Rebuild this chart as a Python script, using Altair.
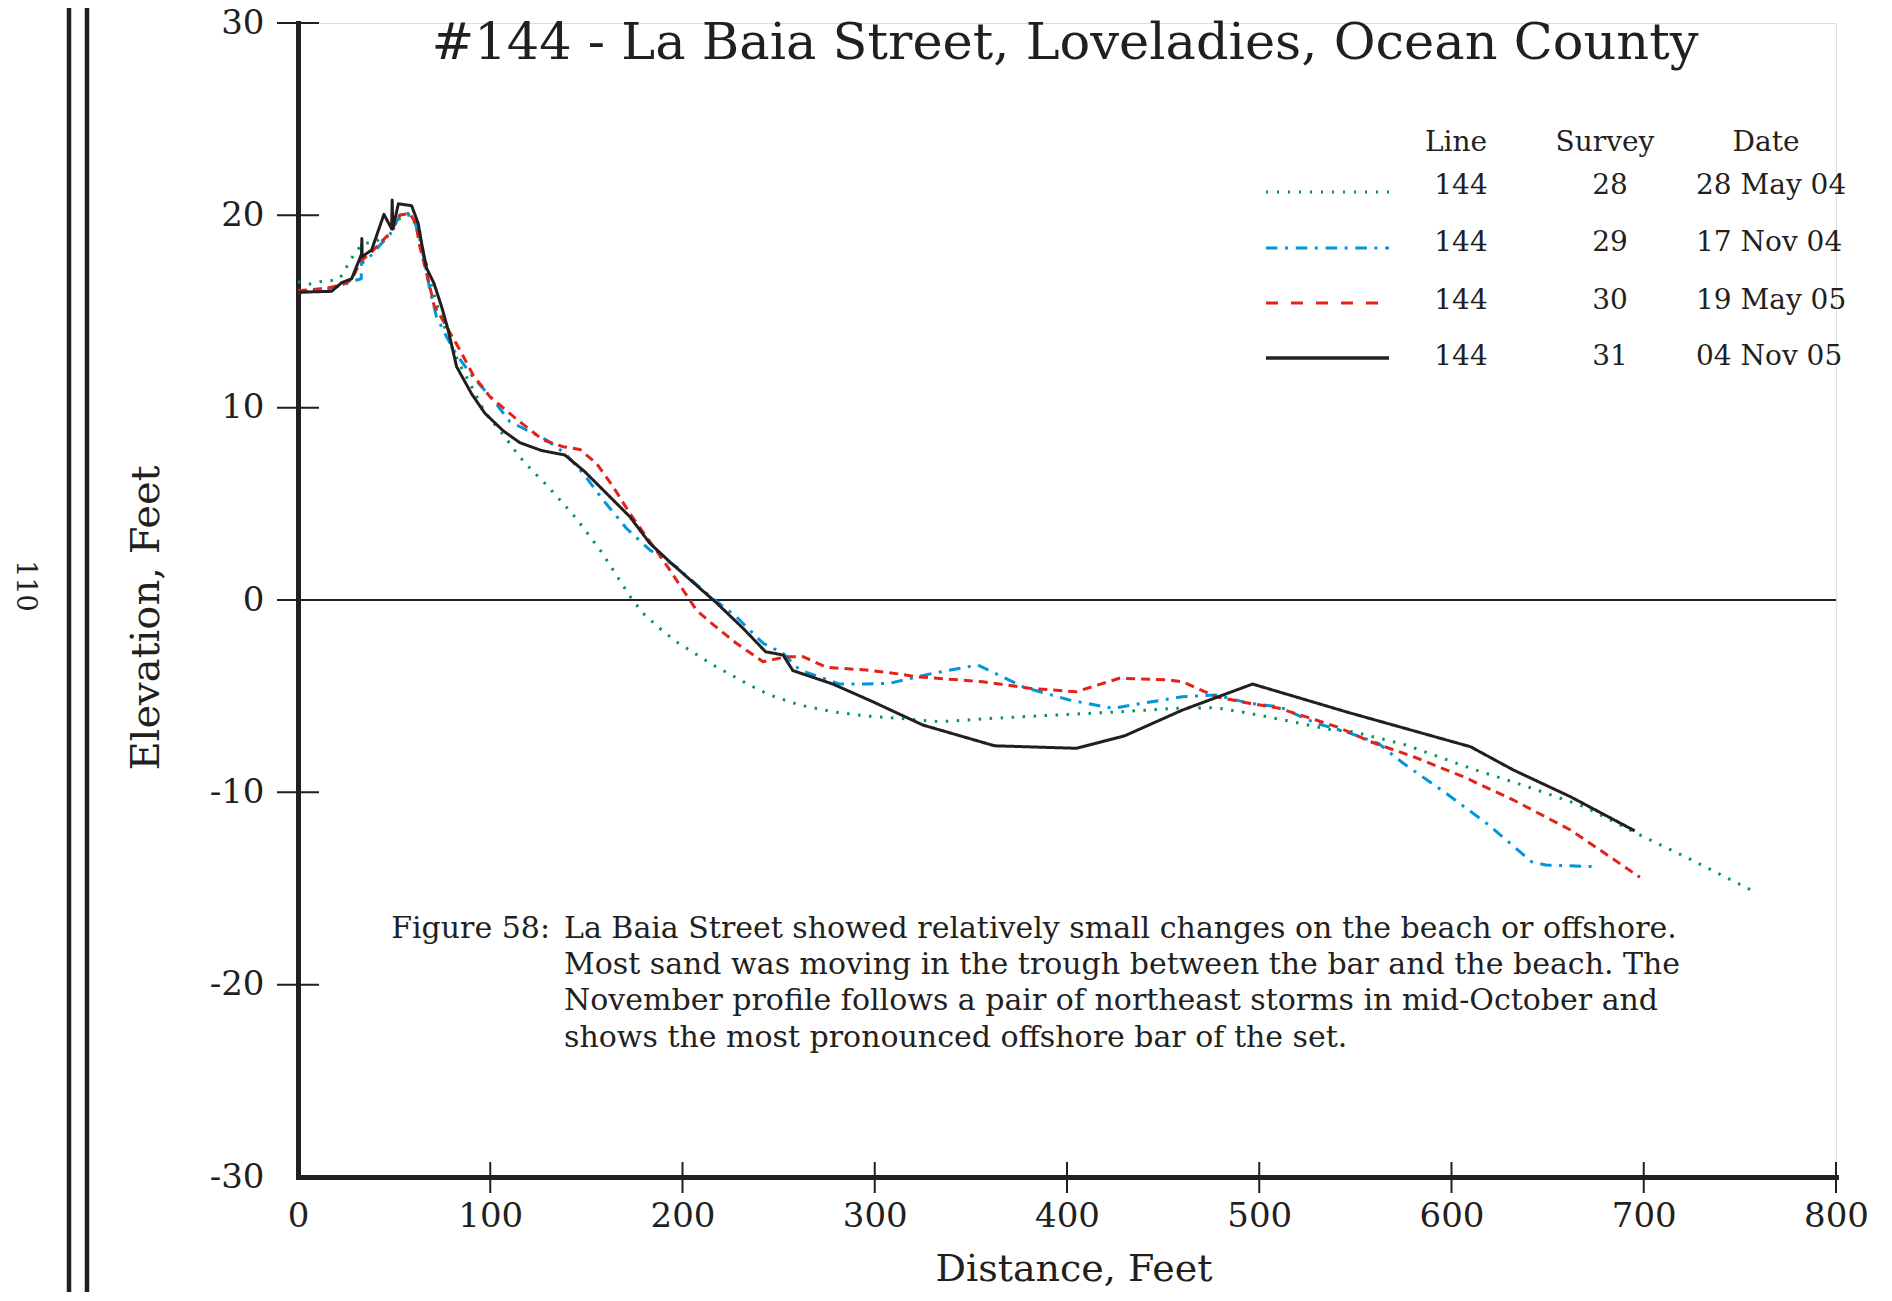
import altair as alt
import pandas as pd

# ---------------- data ----------------
# Survey 28 - 28 May 04 (green dotted)
x28 = [0, 6.2, 11.4, 17.0, 21.8, 24.9, 27.9, 30.8, 34.0, 40.0, 44.3, 46.8, 50.4, 53.9, 57.3,
       60.8, 63.4, 65.1, 67.7, 69.3, 72.0, 74.6, 77.3, 80.6, 84.2, 89.4, 97.2, 107.6, 114.5,
       121.5, 129.3, 137.1, 144.0, 150.9, 157.8, 163.9, 170.0, 173.4, 179.5, 188.1, 196.8,
       206.3, 215.9, 225.4, 234.9, 245.3, 260.9, 278.2, 295.6, 312.0, 333.7, 361.4, 394.3,
       428.1, 456.7, 477.5, 494.8, 517.3, 538.1, 548.8, 576.4, 609.9, 639.6, 669.3, 696.2,
       725.0, 756.6]
y28 = [16.55, 16.43, 16.55, 16.6, 16.73, 17.25, 17.77, 18.2, 18.55, 18.58, 18.94, 18.9, 19.41,
       20.02, 20.1, 19.6, 19.15, 18.03, 17.16, 16.38, 15.43, 14.73, 13.86, 13.0, 12.22, 11.27,
       9.75, 8.49, 7.54, 6.76, 5.98, 5.11, 4.33, 3.43, 2.51, 1.56, 0.61, 0.09, -0.69, -1.47,
       -2.17, -2.77, -3.38, -3.9, -4.42, -4.94, -5.46, -5.81, -6.03, -6.15, -6.33, -6.15, -5.98,
       -5.81, -5.63, -5.6, -5.89, -6.33, -6.76, -6.85, -7.54, -8.75, -9.71, -10.75, -12.13,
       -13.52, -15.12]

# Survey 29 - 17 Nov 04 (blue dash-dot)
x29 = [0, 13.2, 22.7, 27.9, 32.9, 33.1, 33.3, 38.9, 42.6, 47.8, 51.3, 53.0, 59.9, 63.4, 66.0,
       68.6, 72.0, 77.3, 82.5, 91.0, 101.5, 110.2, 118.9, 129.3, 138.8, 148.3, 158.7, 170.8,
       183.0, 196.8, 212.4, 228.0, 241.9, 252.3, 260.9, 281.7, 295.6, 307.7, 330.2, 353.6,
       377.7, 401.2, 423.7, 460.1, 477.5, 494.8, 510.4, 529.5, 545.1, 561.9, 574.9, 597.2,
       619.4, 641.7, 649.1, 675.1]
y29 = [15.98, 16.12, 16.35, 16.55, 16.7, 18.7, 17.5, 18.0, 18.45, 19.0, 19.68, 20.0, 20.0,
       18.72, 17.5, 16.12, 14.73, 13.69, 12.74, 11.6, 10.4, 9.27, 8.84, 8.32, 7.63, 6.59, 5.2,
       3.73, 2.6, 1.73, 0.35, -0.87, -2.25, -2.77, -3.64, -4.37, -4.37, -4.33, -3.81, -3.38,
       -4.54, -5.2, -5.63, -5.03, -4.94, -5.37, -5.55, -6.41, -6.85, -7.45, -8.49, -10.05,
       -11.7, -13.61, -13.78, -13.87]

# Survey 30 - 19 May 05 (red dashed)
x30 = [0, 8.0, 15.8, 22.7, 27.9, 32.5, 38.3, 42.6, 47.8, 53.0, 58.2, 61.2, 63.4, 66.0, 68.6,
       70.7, 77.3, 84.2, 91.1, 99.8, 105.0, 113.7, 127.5, 137.9, 146.6, 155.2, 163.9, 172.6,
       181.2, 189.9, 200.3, 207.2, 214.1, 228.0, 241.9, 254.0, 262.7, 274.8, 295.6, 312.9,
       321.6, 356.2, 380.5, 404.8, 427.2, 453.2, 460.1, 477.5, 494.8, 510.4, 529.5, 541.2,
       557.9, 580.2, 606.2, 632.2, 661.9, 678.6, 698.0]
y30 = [16.08, 16.15, 16.24, 16.38, 16.64, 17.6, 18.1, 18.55, 19.07, 20.02, 20.1, 19.59, 18.37,
       17.33, 16.29, 15.34, 14.21, 13.0, 11.7, 10.57, 10.14, 9.4, 8.32, 7.97, 7.83, 7.11, 5.89,
       4.51, 3.29, 2.08, 0.52, -0.52, -1.13, -2.25, -3.21, -2.95, -2.95, -3.5, -3.64, -3.85,
       -3.99, -4.25, -4.59, -4.77, -4.07, -4.16, -4.25, -5.03, -5.37, -5.63, -6.24, -6.62,
       -7.37, -8.15, -9.19, -10.4, -11.96, -13.09, -14.42]

# Survey 31 - 04 Nov 05 (black solid)
x31 = [0, 17.5, 22.7, 27.9, 33.1, 33.2, 33.4, 38.3, 44.7, 48.7, 49.0, 49.3, 52.2, 59.1, 62.5,
       64.3, 66.9, 70.7, 74.7, 78.1, 82.5, 90.3, 97.2, 106.7, 115.4, 126.7, 138.8, 149.2,
       159.6, 172.6, 183.0, 193.3, 208.1, 217.6, 231.5, 243.2, 252.3, 257.4, 278.2, 299.0,
       325.0, 362.3, 404.8, 429.8, 460.1, 496.5, 546.8, 609.9, 632.2, 661.9, 695.3]
y31 = [16.0, 16.05, 16.5, 16.7, 18.0, 18.8, 17.85, 18.2, 20.05, 19.3, 20.8, 19.3, 20.6, 20.5,
       19.59, 18.55, 17.25, 16.47, 15.25, 14.04, 12.13, 10.72, 9.71, 8.8, 8.18, 7.77, 7.54,
       6.67, 5.63, 4.33, 2.95, 1.99, 0.69, -0.14, -1.47, -2.69, -2.86, -3.67, -4.37, -5.29,
       -6.5, -7.58, -7.71, -7.07, -5.72, -4.37, -5.86, -7.63, -8.84, -10.23, -12.0]

x_ticks = [0, 100, 200, 300, 400, 500, 600, 700, 800]
y_ticks = [-30, -20, -10, 0, 10, 20, 30]

leg_header = ["Line", "Survey", "Date"]
leg_line = ["144", "144", "144", "144"]
leg_survey = ["28", "29", "30", "31"]
leg_date = ["28 May 04", "17 Nov 04", "19 May 05", "04 Nov 05"]

title_text = "#144 - La Baia Street, Loveladies, Ocean County"
fig_label = "Figure 58:"
caption_lines = [
    "La Baia Street showed relatively small changes on the beach or offshore.",
    "Most sand was moving in the trough between the bar and the beach.  The",
    "November profile follows a pair of northeast storms in mid-October and",
    "shows the most pronounced offshore bar of the set.",
]
page_number = "110"

# ---------------- styling ----------------
W, H = 1538, 1154
TOP = 15
SVG_H = 1284
FONT = "DejaVu Serif"
INK = "#231f20"
GREEN, BLUE, RED = "#00994d", "#0096dc", "#e2231a"

xaxis = alt.Axis(values=x_ticks, ticks=False, grid=False, title=None, domainWidth=5,
                 domainColor=INK, domainCap="square", labelFont=FONT, labelFontSize=34,
                 labelColor=INK, labelPadding=22, labelFlush=False, labelOverlap=False)
yaxis = alt.Axis(values=y_ticks, ticks=False, grid=False, title=None, domainWidth=5,
                 domainColor=INK, domainCap="square", labelFont=FONT, labelFontSize=34,
                 labelColor=INK, labelPadding=34, labelOverlap=False,
                 labelExpr="datum.value + ''")
xs = alt.Scale(domain=[0, 800], nice=False, zero=False)
ys = alt.Scale(domain=[-30, 30], nice=False, zero=False)


def X(field="dist"):
    return alt.X(f"{field}:Q", scale=xs, axis=xaxis)


def Y(field="elev"):
    return alt.Y(f"{field}:Q", scale=ys, axis=yaxis)


def series(xv, yv, color, dash, width=3.0):
    df = pd.DataFrame({"dist": xv, "elev": yv, "i": list(range(len(xv)))})
    return alt.Chart(df).mark_line(color=color, strokeDash=dash, strokeWidth=width,
                                   strokeCap="butt", strokeJoin="round").encode(
        x=X(), y=Y(), order="i:Q")


layers = []

# zero line
zero_df = pd.DataFrame({"dist": [0], "dist2": [800], "elev": [0]})
layers.append(alt.Chart(zero_df).mark_rule(color=INK, strokeWidth=2).encode(
    x=X(), x2="dist2:Q", y=Y()))

# tick marks crossing the axes
ytick_df = pd.DataFrame({"elev": [v for v in y_ticks if v != -30]})
layers.append(alt.Chart(ytick_df).mark_rule(color=INK, strokeWidth=2).encode(
    y=Y(), x=alt.value(-21), x2=alt.value(21)))
xtick_df = pd.DataFrame({"dist": [v for v in x_ticks if v != 0]})
layers.append(alt.Chart(xtick_df).mark_rule(color=INK, strokeWidth=2).encode(
    x=X(), y=alt.value(H - 15), y2=alt.value(H + 16)))

# profiles
layers.append(series(x28, y28, GREEN, [2.5, 8.5], 3))
layers.append(series(x29, y29, BLUE, [11.5, 7.5, 3, 7.5], 3))
layers.append(series(x30, y30, RED, [9, 6], 3))
layers.append(series(x31, y31, INK, [1, 0], 3))


def text(t, x, y, size, align="left", baseline="alphabetic", angle=0):
    df = pd.DataFrame({"t": [t]})
    kw = dict(font=FONT, fontSize=size, color=INK, align=align, baseline=baseline)
    if angle:
        kw["angle"] = angle
    return alt.Chart(df).mark_text(**kw).encode(text="t:N", x=alt.value(x), y=alt.value(y))


# title and axis titles
layers.append(text(title_text, 767, 36, 51, align="center"))
layers.append(text("Elevation, Feet", -151, 595, 40, align="center", baseline="middle", angle=270))
layers.append(text("Distance, Feet", 776, 1258, 38, align="center"))

# legend
LEG_FS = 28
layers.append(text(leg_header[0], 1158, 120, LEG_FS, align="center", baseline="middle"))
layers.append(text(leg_header[1], 1307, 120, LEG_FS, align="center", baseline="middle"))
layers.append(text(leg_header[2], 1468, 120, LEG_FS, align="center", baseline="middle"))
row_y = [163, 220, 278, 334]
line_y = [169, 225, 280, 335]
leg_styles = [(GREEN, [2, 9], 3), (BLUE, [11.5, 7.5, 3, 7.8], 3), (RED, [12, 13], 3),
              (INK, [1, 0], 3.5)]
for k in range(4):
    layers.append(text(leg_line[k], 1163, row_y[k], LEG_FS, align="center", baseline="middle"))
    layers.append(text(leg_survey[k], 1312, row_y[k], LEG_FS, align="center", baseline="middle"))
    layers.append(text(leg_date[k], 1398, row_y[k], LEG_FS, align="left", baseline="middle"))
    c, d, w = leg_styles[k]
    ldf = pd.DataFrame({"k": [k]})
    layers.append(alt.Chart(ldf).mark_rule(color=c, strokeDash=d, strokeWidth=w,
                                           strokeCap="butt").encode(
        x=alt.value(968), x2=alt.value(1091), y=alt.value(line_y[k])))

# caption
CAP_FS = 30
cap_base = [915, 951, 987, 1024]
layers.append(text(fig_label, 252, cap_base[0], CAP_FS, align="right"))
for k, line in enumerate(caption_lines):
    layers.append(text(line, 266, cap_base[k], CAP_FS, align="left"))

# page decorations: double rule and page number
for xv in (-229, -211):
    pdf = pd.DataFrame({"k": [xv]})
    layers.append(alt.Chart(pdf).mark_rule(color=INK, strokeWidth=4.5).encode(
        x=alt.value(xv), y=alt.value(-TOP), y2=alt.value(SVG_H - TOP)))
layers.append(text(page_number, -273, 563, 27, align="center", baseline="middle", angle=90))

chart = alt.layer(*layers).properties(
    width=W, height=H,
    autosize=alt.AutoSizeParams(type="none"),
    padding={"left": 290, "top": TOP, "right": 42, "bottom": SVG_H - TOP - H},
).configure_view(strokeWidth=0).configure(background="white")

chart.save("out.html", embed_options={"renderer": "svg", "actions": False})
